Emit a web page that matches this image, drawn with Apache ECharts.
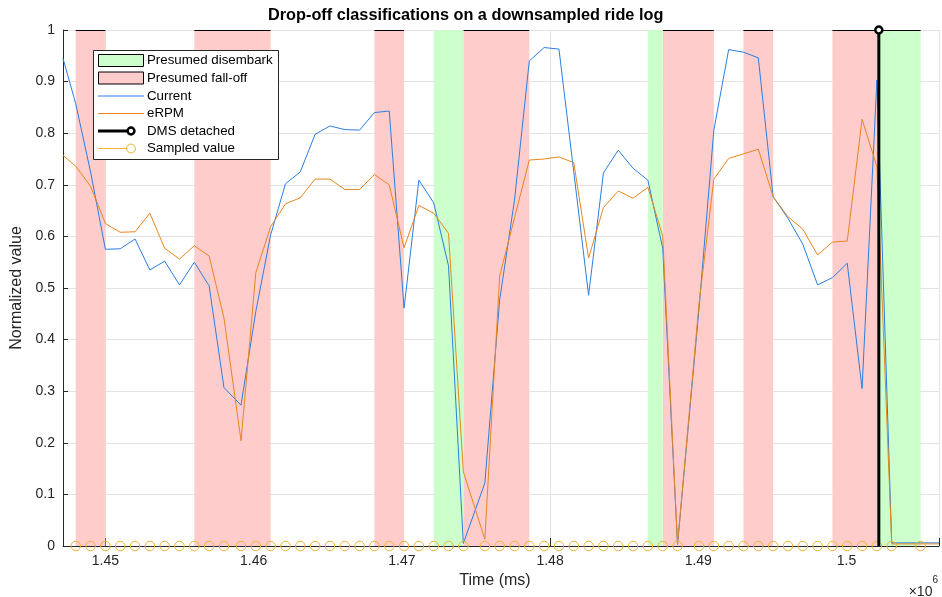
<!DOCTYPE html>
<html>
<head>
<meta charset="utf-8">
<script src="https://cdn.jsdelivr.net/npm/echarts@6/dist/echarts.min.js"></script>
<style>
  html, body { margin: 0; padding: 0; background: #ffffff; }
  #chart { width: 942px; height: 597px; }
</style>
</head>
<body>
<div id="chart"></div>
<script>
// Ride log, downsampled: timestamps in ms and normalized channels
const timeMs = [
  1447140, 1448000, 1449000, 1450000, 1451000, 1452000, 1453000, 1454000, 1455000, 1456000,
  1457000, 1458000, 1459150, 1460150, 1461150, 1462150, 1463150, 1464150, 1465150, 1466150,
  1467150, 1468150, 1469150, 1470150, 1471150, 1472150, 1473150, 1474150, 1475600, 1476600,
  1477600, 1478600, 1479600, 1480600, 1481600, 1482600, 1483600, 1484600, 1485600, 1486600,
  1487600, 1488600, 1490050, 1491050, 1492050, 1493050, 1494050, 1495050, 1496050, 1497050,
  1498050, 1499050, 1500050, 1501050, 1502050, 1503050, 1505000, 1506240
];
const currentNorm = [
  0.945, 0.857, 0.725, 0.575, 0.576, 0.595, 0.535, 0.552, 0.506, 0.550,
  0.504, 0.307, 0.273, 0.455, 0.603, 0.702, 0.725, 0.798, 0.814, 0.807,
  0.806, 0.840, 0.843, 0.461, 0.709, 0.665, 0.543, 0.005, 0.122, 0.477,
  0.670, 0.940, 0.966, 0.963, 0.725, 0.486, 0.723, 0.767, 0.732, 0.709,
  0.577, 0.003, 0.460, 0.806, 0.962, 0.957, 0.946, 0.677, 0.635, 0.585,
  0.506, 0.520, 0.548, 0.305, 0.903, 0.006, 0.006, 0.006
];
const erpmNorm = [
  0.757, 0.736, 0.697, 0.625, 0.608, 0.609, 0.645, 0.577, 0.556, 0.582,
  0.562, 0.442, 0.204, 0.530, 0.619, 0.663, 0.675, 0.711, 0.711, 0.691,
  0.691, 0.720, 0.700, 0.578, 0.660, 0.645, 0.606, 0.144, 0.013, 0.523,
  0.636, 0.748, 0.750, 0.754, 0.743, 0.558, 0.656, 0.688, 0.674, 0.695,
  0.601, 0.004, 0.470, 0.711, 0.751, 0.760, 0.769, 0.677, 0.638, 0.614,
  0.564, 0.589, 0.591, 0.827, 0.735, 0.004, 0.004, 0.004
];

// Classifier sample instants and the value it read at each
const sampledTimes = [
  1448000, 1449000, 1450000, 1451000, 1452000, 1453000, 1454000, 1455000, 1456000, 1457000,
  1458000, 1459150, 1460150, 1461150, 1462150, 1463150, 1464150, 1465150, 1466150, 1467150,
  1468150, 1469150, 1470150, 1471150, 1472150, 1473150, 1474150, 1475600, 1476600, 1477600,
  1478600, 1479600, 1480600, 1481600, 1482600, 1483600, 1484600, 1485600, 1486600, 1487600,
  1488600, 1490050, 1491050, 1492050, 1493050, 1494050, 1495050, 1496050, 1497050, 1498050,
  1499050, 1500050, 1501050, 1502050, 1503050, 1505000
];
const sampledValues = [
  0, 0, 0, 0, 0, 0, 0, 0, 0, 0,
  0, 0, 0, 0, 0, 0, 0, 0, 0, 0,
  0, 0, 0, 0, 0, 0, 0, 0, 0, 0,
  0, 0, 0, 0, 0, 0, 0, 0, 0, 0,
  0, 0, 0, 0, 0, 0, 0, 0, 0, 0,
  0, 0, 0, 0, 0, 0
];

// Classified intervals [start ms, end ms]
const disembarkSpans = [
  [1472150, 1474150], [1486600, 1487600], [1502100, 1505000]
];
const fallOffSpans = [
  [1448000, 1450000], [1456000, 1461150], [1468150, 1470150], [1474150, 1478600],
  [1487600, 1491050], [1493050, 1495050], [1499050, 1502100]
];

// Moment the dead-man switch reported detached
const dmsDetachedMs = 1502180;
const dmsLevels = [0, 1];

const FONT = '"Liberation Sans", Arial, Helvetica, sans-serif';
const INK = '#262626';
const C_CURRENT = '#2a7ee0';
const C_ERPM = '#e8861e';
const C_SAMPLE = '#efb232';
const C_FALL = '#ffcccc';
const C_DISEMBARK = '#ccffcc';

// Shaded span from y=0 to y=1; outlined along its top when `outlined(start, end)` holds
function spanRenderer(fill, outlined) {
  return function (params, api) {
    const t0 = api.value(0), t1 = api.value(1);
    const a = api.coord([t0, 1]);
    const b = api.coord([t1, 0]);
    const children = [
      { type: 'rect', shape: { x: a[0], y: a[1], width: b[0] - a[0], height: b[1] - a[1] },
        style: { fill: fill } }
    ];
    if (outlined(t0, t1)) {
      children.push({ type: 'line', shape: { x1: a[0], y1: a[1] + 0.5, x2: b[0], y2: a[1] + 0.5 },
        style: { stroke: '#000', lineWidth: 1 } });
    }
    return { type: 'group', children: children };
  };
}

const chart = echarts.init(document.getElementById('chart'), null, { renderer: 'canvas' });

const legendRows = [60.5, 78, 96, 113.5, 131, 148.5];
const legendTextX = 147;
const LEG_Z = 100;
const legendFont = '13.3px ' + FONT;

function legendText(row, label) {
  return { type: 'text', z: LEG_Z + 1, x: legendTextX, y: legendRows[row],
    style: { text: label, font: legendFont, fill: '#000', textVerticalAlign: 'middle' } };
}

const option = {
  animation: false,
  backgroundColor: '#ffffff',
  textStyle: { fontFamily: FONT },
  title: {
    text: 'Drop-off classifications on a downsampled ride log',
    left: 268,
    top: 8,
    padding: 0,
    textStyle: { fontFamily: FONT, fontSize: 16.3, fontWeight: 'bold', color: '#000' }
  },
  grid: { left: 63, top: 30, right: 0, bottom: 51, containLabel: false },
  xAxis: {
    type: 'value',
    min: timeMs[0],
    max: timeMs[timeMs.length - 1],
    name: 'Time (ms)',
    nameLocation: 'middle',
    nameGap: 27,
    nameTextStyle: { fontFamily: FONT, fontSize: 16, color: INK, padding: [0, 12, 0, 0] },
    axisLine: { show: true, onZero: false, lineStyle: { color: INK, width: 1 } },
    axisTick: { show: true, inside: true, length: 8, lineStyle: { color: INK } },
    axisLabel: {
      fontFamily: FONT, fontSize: 14, color: INK, margin: 8,
      formatter: v => (Math.abs(v % 10000) < 1e-6 ? String(+(v / 1e6).toFixed(2)) : '')
    },
    splitLine: { show: true, lineStyle: { color: '#e3e3e3', width: 1 } }
  },
  yAxis: {
    type: 'value',
    min: 0,
    max: 1,
    interval: 0.1,
    name: 'Normalized value',
    nameLocation: 'middle',
    nameGap: 33,
    nameRotate: 90,
    nameTextStyle: { fontFamily: FONT, fontSize: 16, color: INK },
    axisLine: { show: true, onZero: false, lineStyle: { color: INK, width: 1 } },
    axisTick: { show: true, inside: true, length: 5, lineStyle: { color: INK } },
    axisLabel: {
      fontFamily: FONT, fontSize: 14, color: INK, margin: 8,
      formatter: v => String(+v.toFixed(1))
    },
    splitLine: { show: true, lineStyle: { color: '#e3e3e3', width: 1 } }
  },
  graphic: [
    { type: 'rect', z: LEG_Z, shape: { x: 93.5, y: 50.5, width: 185, height: 109 },
      style: { fill: '#ffffff', stroke: INK, lineWidth: 1 } },
    { type: 'rect', z: LEG_Z + 1, shape: { x: 98.5, y: legendRows[0] - 6, width: 45, height: 12 },
      style: { fill: C_DISEMBARK, stroke: '#000', lineWidth: 1 } },
    { type: 'rect', z: LEG_Z + 1, shape: { x: 98.5, y: legendRows[1] - 6, width: 45, height: 12 },
      style: { fill: C_FALL, stroke: '#000', lineWidth: 1 } },
    { type: 'line', z: LEG_Z + 1, shape: { x1: 98, y1: legendRows[2], x2: 144, y2: legendRows[2] },
      style: { stroke: C_CURRENT, lineWidth: 1 } },
    { type: 'line', z: LEG_Z + 1, shape: { x1: 98, y1: legendRows[3], x2: 144, y2: legendRows[3] },
      style: { stroke: C_ERPM, lineWidth: 1 } },
    { type: 'line', z: LEG_Z + 1, shape: { x1: 98, y1: legendRows[4], x2: 128, y2: legendRows[4] },
      style: { stroke: '#000', lineWidth: 3 } },
    { type: 'circle', z: LEG_Z + 2, shape: { cx: 131, cy: legendRows[4], r: 3.4 },
      style: { fill: '#ffffff', stroke: '#000', lineWidth: 2.5 } },
    { type: 'line', z: LEG_Z + 1, shape: { x1: 98, y1: legendRows[5], x2: 127, y2: legendRows[5] },
      style: { stroke: C_SAMPLE, lineWidth: 1 } },
    { type: 'circle', z: LEG_Z + 2, shape: { cx: 131, cy: legendRows[5], r: 4.4 },
      style: { fill: 'rgba(0,0,0,0)', stroke: C_SAMPLE, lineWidth: 1 } },
    legendText(0, 'Presumed disembark'),
    legendText(1, 'Presumed fall-off'),
    legendText(2, 'Current'),
    legendText(3, 'eRPM'),
    legendText(4, 'DMS detached'),
    legendText(5, 'Sampled value'),
    {
      type: 'text',
      z: LEG_Z,
      right: 4,
      top: 575,
      style: {
        text: '{x|×10}{e|6}',
        fill: INK,
        rich: {
          x: { fontFamily: FONT, fontSize: 14, color: INK, padding: [10, 0, 0, 0] },
          e: { fontFamily: FONT, fontSize: 10, color: INK, verticalAlign: 'top' }
        }
      }
    }
  ],
  series: [
    {
      name: 'Presumed fall-off',
      type: 'custom',
      renderItem: spanRenderer(C_FALL, () => true),
      data: fallOffSpans,
      clip: true,
      z: 1,
      silent: true
    },
    {
      name: 'Presumed disembark',
      type: 'custom',
      // a disembark span is outlined once the DMS detach has been seen in it
      renderItem: spanRenderer(C_DISEMBARK, (t0, t1) => t1 >= dmsDetachedMs),
      data: disembarkSpans,
      clip: true,
      z: 1,
      silent: true
    },
    {
      name: 'Current',
      type: 'line',
      data: timeMs.map((t, i) => [t, currentNorm[i]]),
      symbol: 'none',
      lineStyle: { color: C_CURRENT, width: 1 },
      z: 3
    },
    {
      name: 'eRPM',
      type: 'line',
      data: timeMs.map((t, i) => [t, erpmNorm[i]]),
      symbol: 'none',
      lineStyle: { color: C_ERPM, width: 1 },
      z: 4
    },
    {
      name: 'Sampled value',
      type: 'line',
      data: sampledTimes.map((t, i) => [t, sampledValues[i]]),
      symbol: 'circle',
      symbolSize: 9.5,
      showAllSymbol: true,
      lineStyle: { width: 0, opacity: 0 },
      itemStyle: { color: 'rgba(0,0,0,0)', borderColor: C_SAMPLE, borderWidth: 1 },
      clip: false,
      z: 5
    },
    {
      name: 'DMS detached',
      type: 'line',
      data: [
        { value: [dmsDetachedMs, dmsLevels[0]], symbol: 'none' },
        { value: [dmsDetachedMs, dmsLevels[1]], symbol: 'circle' }
      ],
      symbolSize: 7,
      showAllSymbol: true,
      lineStyle: { color: '#000', width: 3 },
      itemStyle: { color: '#ffffff', borderColor: '#000', borderWidth: 2.5 },
      clip: false,
      z: 6
    }
  ]
};

chart.setOption(option);
</script>
</body>
</html>
